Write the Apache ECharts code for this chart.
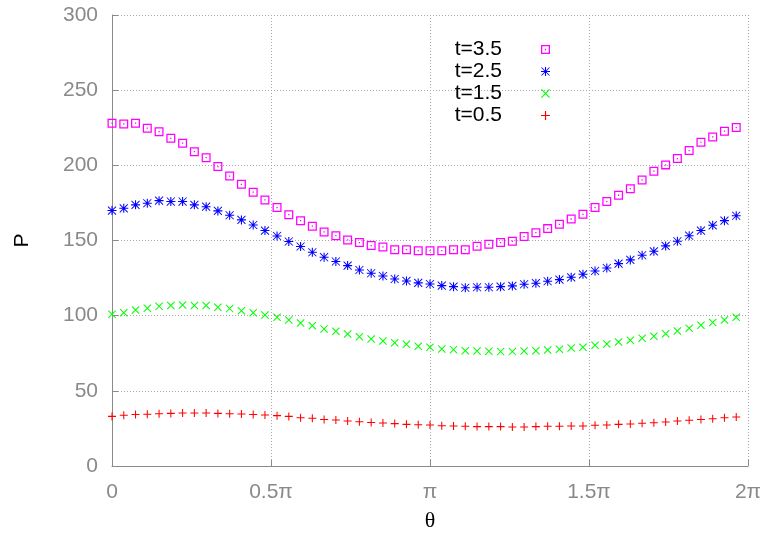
<!DOCTYPE html>
<html>
<head>
<meta charset="utf-8">
<script src="https://cdn.jsdelivr.net/npm/echarts@6/dist/echarts.min.js"></script>
<style>html,body{margin:0;padding:0;background:#fff}#c{width:763px;height:534px}</style>
</head>
<body>
<div id="c"></div>
<script>
// theta in units of pi
var theta = [0, 0.037, 0.074, 0.111, 0.148, 0.185, 0.222, 0.259, 0.296, 0.333, 0.370, 0.407, 0.444, 0.481, 0.519, 0.556, 0.593, 0.630, 0.667, 0.704, 0.741, 0.778, 0.815, 0.852, 0.889, 0.926, 0.963,
  1.000, 1.037, 1.074, 1.111, 1.148, 1.185, 1.222, 1.259, 1.296, 1.333, 1.370, 1.407, 1.444, 1.481, 1.519, 1.556, 1.593, 1.630, 1.667, 1.704, 1.741, 1.778, 1.815, 1.852, 1.889, 1.926, 1.963];
var seriesNames = ['t=3.5', 't=2.5', 't=1.5', 't=0.5'];
var p35 = [228.0, 227.5, 228.0, 224.7, 222.4, 218.0, 214.7, 209.1, 205.1, 199.2, 192.9, 187.4, 182.1, 177.0, 171.9, 167.2, 163.2, 159.5, 155.7, 153.2, 150.4, 148.6, 146.6, 145.7, 143.9, 143.9, 143.2, 143.2,
  143.2, 143.9, 143.9, 146.1, 147.5, 148.6, 149.5, 152.6, 155.2, 157.9, 160.8, 164.3, 167.4, 171.9, 175.9, 180.1, 184.5, 190.3, 196.1, 200.3, 204.5, 209.8, 215.4, 218.9, 222.7, 225.1];
var p25 = [169.9, 171.4, 173.7, 174.8, 176.5, 175.9, 175.9, 173.7, 172.5, 169.7, 166.8, 163.7, 160.3, 156.6, 153.0, 149.3, 146.0, 142.2, 138.9, 136.0, 133.3, 130.4, 128.2, 126.4, 124.4, 123.1, 121.8, 121.1,
  120.0, 119.3, 118.6, 118.9, 118.9, 119.3, 119.8, 120.9, 121.6, 122.9, 124.0, 125.5, 127.5, 129.7, 131.7, 134.6, 137.1, 140.2, 142.8, 146.4, 149.5, 153.2, 156.6, 160.1, 163.2, 166.5];
var p15 = [100.9, 102.0, 103.8, 104.9, 106.2, 106.7, 107.1, 106.7, 106.7, 105.6, 104.7, 103.3, 102.0, 100.5, 98.9, 97.1, 95.1, 93.3, 91.2, 89.6, 87.8, 86.0, 84.5, 83.2, 82.0, 81.0, 79.6, 79.0,
  77.8, 77.4, 76.7, 76.5, 76.3, 76.1, 76.1, 76.5, 76.7, 77.2, 77.6, 78.5, 79.0, 80.3, 81.2, 82.5, 83.6, 85.0, 86.3, 88.0, 89.8, 91.6, 93.6, 95.4, 97.1, 98.9];
var p05 = [33.0, 33.7, 34.2, 34.4, 34.8, 35.0, 35.3, 35.3, 35.3, 35.0, 34.8, 34.6, 34.2, 33.9, 33.5, 33.0, 32.1, 31.7, 31.0, 30.6, 29.9, 29.5, 29.0, 28.6, 28.2, 27.7, 27.5, 27.3,
  26.8, 26.6, 26.4, 26.2, 26.2, 26.2, 25.9, 25.9, 26.2, 26.4, 26.4, 26.6, 26.6, 27.1, 27.3, 27.7, 27.9, 28.4, 28.8, 29.3, 29.9, 30.4, 31.0, 31.5, 32.1, 32.6];
var xTickValues = [0, 0.5, 1, 1.5, 2];
var xTickLabels = ['0', '0.5π', 'π', '1.5π', '2π'];

var SYM_SQUARE = 'path://M0,0H10V10H0Z M1.4,1.4V8.6H8.6V1.4Z M4.3,4.3H5.7V5.7H4.3Z';
var SYM_PLUS = 'path://M4.35,0H5.65V4.35H10V5.65H5.65V10H4.35V5.65H0V4.35H4.35Z';
var SYM_X = 'path://M9.1,0L10,0.9L0.9,10L0,9.1Z M10,9.1L9.1,10L0,0.9L0.9,0Z';
var SYM_STAR = 'path://M4.4,0H5.6V4.4H10V5.6H5.6V10H4.4V5.6H0V4.4H4.4Z M9.1,0.2L9.8,0.9L0.9,9.8L0.2,9.1Z M9.8,9.1L9.1,9.8L0.2,0.9L0.9,0.2Z';

function pairs(vals) {
  var out = [];
  for (var i = 0; i < vals.length; i++) out.push([theta[i], vals[i]]);
  return out;
}

var chart = echarts.init(document.getElementById('c'), null, {renderer: 'canvas'});
var gray = '#8a8a8a';
var labelFont = 'Liberation Sans, Arial, sans-serif';
var seriesDefs = [
  {vals: p35, sym: SYM_SQUARE, size: 9, color: '#ff00ff'},
  {vals: p25, sym: SYM_STAR, size: 9, color: '#0000ff'},
  {vals: p15, sym: SYM_X, size: 8, color: '#00ff00'},
  {vals: p05, sym: SYM_PLUS, size: 8, color: '#ff0000'}
];
var series = seriesDefs.map(function (d, i) {
  return {
    name: seriesNames[i],
    type: 'scatter',
    data: pairs(d.vals),
    symbol: d.sym,
    symbolSize: d.size,
    itemStyle: {color: d.color, opacity: 1},
    emphasis: {disabled: true},
    animation: false
  };
});

chart.setOption({
  animation: false,
  backgroundColor: '#ffffff',
  grid: {left: 112, right: 15, top: 15, bottom: 68, containLabel: false, outerBoundsMode: 'none'},
  legend: {
    orient: 'vertical',
    right: 213,
    top: 39,
    padding: 0,
    align: 'right',
    itemWidth: 9,
    itemHeight: 9,
    itemGap: 1,
    selectedMode: false,
    data: seriesNames,
    textStyle: {color: '#000', fontSize: 21, fontFamily: labelFont, padding: [0, 34, 0, 0]}
  },
  xAxis: {
    type: 'value',
    min: 0,
    max: 2,
    interval: 0.5,
    name: 'θ',
    nameLocation: 'middle',
    nameGap: 44,
    nameMoveOverlap: false,
    nameTextStyle: {color: '#000', fontSize: 22, fontFamily: 'Liberation Serif, serif'},
    axisLine: {show: true, onZero: false, lineStyle: {color: gray, width: 1}},
    axisTick: {show: true, inside: true, length: 6, lineStyle: {color: gray}},
    axisLabel: {
      color: gray, fontSize: 21, fontFamily: labelFont, margin: 16,
      formatter: function (v) {
        var idx = xTickValues.indexOf(Math.round(v * 100) / 100);
        return idx >= 0 ? xTickLabels[idx] : '';
      }
    },
    splitLine: {show: true, lineStyle: {color: '#a8a8a8', type: [1, 2], width: 1}}
  },
  yAxis: {
    type: 'value',
    min: 0,
    max: 300,
    interval: 50,
    name: 'P',
    nameLocation: 'middle',
    nameGap: 79,
    nameRotate: 90,
    nameMoveOverlap: false,
    nameTextStyle: {color: '#000', fontSize: 21, fontFamily: labelFont},
    axisLine: {show: true, onZero: false, lineStyle: {color: gray, width: 1}},
    axisTick: {show: true, inside: true, length: 6, lineStyle: {color: gray}},
    axisLabel: {color: gray, fontSize: 21, fontFamily: labelFont, margin: 14},
    splitLine: {show: true, lineStyle: {color: '#a8a8a8', type: [1, 2], width: 1}}
  },
  series: series
});
</script>
</body>
</html>
